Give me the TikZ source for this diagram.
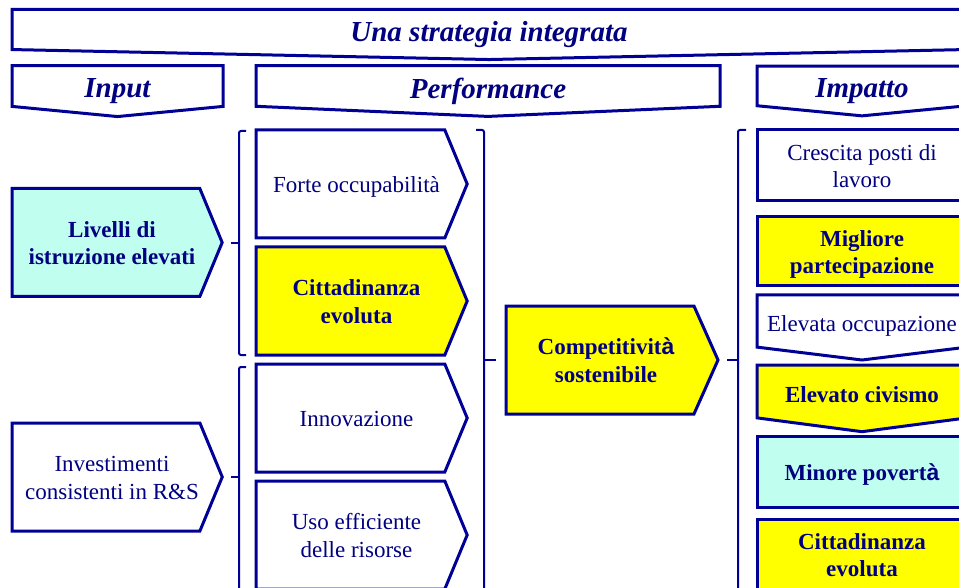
\documentclass[tikz,border=0pt]{standalone}
\usepackage{fontspec}
\setmainfont{Liberation Serif}
\newfontfamily\accfont{Liberation Sans}
\usetikzlibrary{shapes.symbols}
\definecolor{navyline}{RGB}{0,0,150}
\definecolor{navytext}{RGB}{0,0,128}
\definecolor{aqua}{RGB}{192,255,240}
\definecolor{giallo}{RGB}{255,255,0}
\newcommand{\boxtext}[1]{\hspace*{12pt}\raisebox{-3pt}[\height][\depth]{\begin{tabular}{@{}c@{}}#1\end{tabular}}}
\newcommand{\imptext}[2][-3pt]{\raisebox{#1}[\height][\depth]{\begin{tabular}{@{}c@{}}#2\end{tabular}}}
\newcommand{\headtext}[1]{\raisebox{-5pt}[\height][\depth]{#1}}

\begin{document}
\begin{tikzpicture}[x=1pt,y=-1pt,
      base box/.style={draw=navyline,line width=3pt,text=navytext,align=center,inner sep=1pt,font=\fontsize{23}{27.5}\selectfont},
      east box/.style={base box,signal,signal to=east,signal from=nowhere,signal pointer angle=135,minimum width=211pt,minimum height=108pt},
      south box/.style={base box,signal,signal to=south,signal from=nowhere,minimum width=210pt},
      flat box/.style={base box,rectangle,minimum width=210pt},
      head box/.style={south box,minimum height=44pt,inner sep=0pt,font=\fontsize{29}{30}\selectfont\bfseries\itshape},
      brace line/.style={draw=navyline,line width=2pt,rounded corners=2pt}]

  \useasboundingbox (0,0) rectangle (959,588);
  \clip (0,0) rectangle (959,588);

  % intestazioni
  \node[head box,minimum width=954pt,minimum height=43pt,signal pointer angle=177.6] (titolo) at (489,29.5) {\headtext{Una strategia integrata}};
  \node[head box,minimum width=211pt,signal pointer angle=169] (input) at (117.5,86) {\headtext{Input}};
  \node[head box,minimum width=464pt,signal pointer angle=175] (perf) at (488,86) {\headtext{Performance}};
  \node[head box,minimum width=210pt,signal pointer angle=169] (imp) at (862,86) {\headtext{Impatto}};

  % input
  \node[east box,fill=aqua,font=\fontsize{23}{27.5}\selectfont\bfseries,minimum width=210pt] (liv) at (106,242.5) {\boxtext{Livelli di\\istruzione elevati}};
  \node[east box,minimum width=210pt] (inv) at (106,477) {\boxtext{Investimenti\\consistenti in R\&S}};

  % performance
  \node[east box] (occ) at (350.5,184) {\boxtext{Forte occupabilità}};
  \node[east box,fill=giallo,font=\fontsize{23}{27.5}\selectfont\bfseries] (cit) at (350.5,301) {\boxtext{Cittadinanza\\evoluta}};
  \node[east box] (inn) at (350.5,418) {\boxtext{Innovazione}};
  \node[east box] (uso) at (350.5,535) {\boxtext{Uso efficiente\\delle risorse}};
  \node[east box,fill=giallo,font=\fontsize{23}{27.5}\selectfont\bfseries,minimum width=212pt,signal pointer angle=132] (comp) at (600,360) {\boxtext{Competitivit{\accfont à}\\sostenibile}};

  % impatto
  \node[flat box,minimum height=71pt] (cre) at (862,165.5) {\imptext{Crescita posti di\\lavoro}};
  \node[flat box,fill=giallo,minimum height=69pt,font=\fontsize{23}{27.5}\selectfont\bfseries] (mig) at (862,251.5) {\imptext{Migliore\\partecipazione}};
  \node[south box,minimum height=64pt,signal pointer angle=166] (elo) at (862,321) {\imptext[-5pt]{Elevata occupazione}};
  \node[south box,fill=giallo,minimum height=63pt,signal pointer angle=165,font=\fontsize{23}{27.5}\selectfont\bfseries] (civ) at (862,391.5) {\imptext[-5pt]{Elevato civismo}};
  \node[flat box,fill=aqua,minimum height=71pt,font=\fontsize{23}{27.5}\selectfont\bfseries] (pov) at (862,471.5) {\imptext{Minore povert{\accfont à}}};
  \node[flat box,fill=giallo,minimum height=71pt,font=\fontsize{23}{27.5}\selectfont\bfseries] (cit2) at (862,554.5) {\imptext{Cittadinanza\\evoluta}};

  % graffe
  \coordinate (g1) at (239,243);
  \coordinate (g2) at (239,477);
  \coordinate (g3) at (484,360);
  \coordinate (g4) at (738,360);
  \draw[brace line] (246,131) -- (239,131) -- (239,355) -- (246,355);
  \draw[brace line] (246,367) -- (239,367) -- (239,600);
  \draw[brace line] (476,130) -- (484,130) -- (484,600);
  \draw[brace line] (746,130) -- (738,130) -- (738,600);
  \draw[brace line] (g1) -- (231,243);
  \draw[brace line] (g2) -- (231,477);
  \draw[brace line] (g3) -- (496,360);
  \draw[brace line] (g4) -- (727,360);
\end{tikzpicture}
\end{document}
